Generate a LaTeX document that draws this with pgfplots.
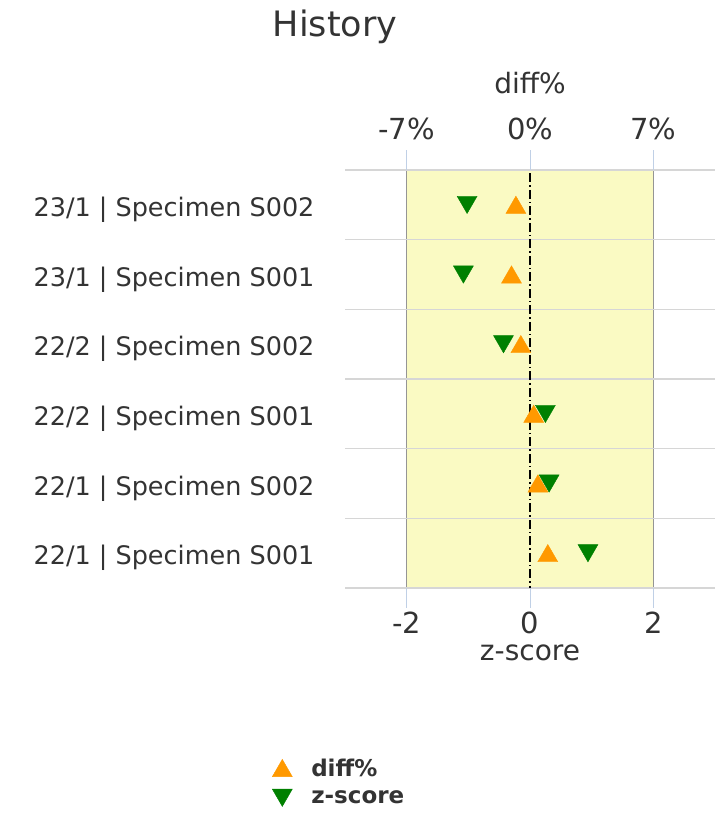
\documentclass[border=0pt]{standalone}
\usepackage{fontspec}
\setmainfont{DejaVu Sans}
\usepackage{pgfplots}
\usepackage{pgfplotstable}
\pgfplotsset{compat=1.18}

\definecolor{txt}{HTML}{333333}
\definecolor{band}{HTML}{FAFAC3}
\definecolor{gridc}{HTML}{D6D6D6}
\definecolor{bordc}{HTML}{959595}
\definecolor{tickc}{HTML}{C0D0E6}
\definecolor{dorange}{HTML}{FF9900}
\definecolor{zgreen}{HTML}{008000}

% row 0 = top row
\pgfplotstableread{
row diff z
0 -0.80 -1.02
1 -1.05 -1.08
2 -0.52 -0.43
3 0.21 0.25
4 0.45 0.31
5 1.01 0.94
}\hist

\pgfplotsset{
  histbase/.style={
    scale only axis, width=370pt, height=418pt,
    at={(345pt,226pt)}, anchor=south west,
    ymin=-0.5, ymax=5.5, y dir=reverse,
    axis line style={draw=none},
    xtick align=outside, major tick length=20pt,
    xtick style={draw=tickc, thick},
    tick label style={font=\fontsize{29}{33}\selectfont, text=txt},
    label style={font=\fontsize{28}{32}\selectfont, text=txt},
    clip=false,
  },
  upmark/.style={only marks, mark=triangle*, mark size=11.5pt,
    mark options={fill=dorange, draw=dorange, yshift=-2.8pt}},
  % rotated frame: negative yshift moves the mark up
  downmark/.style={only marks, mark=triangle*, mark size=11.5pt,
    mark options={rotate=180, fill=zgreen, draw=zgreen, yshift=-2.8pt}},
}

\begin{document}
\begin{tikzpicture}
\node[font=\fontsize{35}{40}\selectfont, text=txt] at (335pt,787pt) {History};

% z-score axis (bottom), band, grid and green marks
\begin{axis}[histbase, set layers,
  xmin=-3, xmax=3,
  axis x line*=bottom, axis y line*=left,
  xtick={-2,0,2}, xticklabels={-2,0,2},
  xlabel={z-score},
  x label style={at={(axis description cs:0.5,-0.155)}, anchor=center},
  ytick={0,...,5},
  yticklabels={23/1 | Specimen S002, 23/1 | Specimen S001, 22/2 | Specimen S002,
    22/2 | Specimen S001, 22/1 | Specimen S002, 22/1 | Specimen S001},
  ytick style={draw=none},
  yticklabel style={font=\fontsize{25.5}{30}\selectfont, text=txt,
    xshift=-27pt, yshift=-5pt},
  minor ytick={-0.5,0.5,...,5.5},
  yminorgrids=true, minor y grid style={gridc, line width=1.5pt},
]
\begin{pgfonlayer}{axis background}
\fill[band] (axis cs:-2,-0.5) rectangle (axis cs:2,5.5);
\draw[bordc, line width=1.5pt] (axis cs:-2,-0.5) -- (axis cs:-2,5.5);
\draw[bordc, line width=1.5pt] (axis cs:2,-0.5) -- (axis cs:2,5.5);
\end{pgfonlayer}
\draw[black, line width=1.2pt, dash pattern=on 9pt off 3pt on 1.5pt off 3pt]
  (axis cs:0,-0.45) -- (axis cs:0,5.5);
\addplot[downmark] table[x=z, y=row] {\hist};
\end{axis}

% diff% axis (top), orange marks and legend
\begin{axis}[histbase,
  xmin=-10.5, xmax=10.5,
  axis x line*=top, hide y axis,
  xtick={-7,0,7}, xticklabels={-7\%,0\%,7\%},
  xticklabel style={yshift=7pt},
  xlabel={diff\%},
  x label style={at={(axis description cs:0.5,1.208)}, anchor=center},
  legend style={at={(-0.205,-0.398)}, anchor=north west, draw=none, fill=none,
    font=\bfseries\fontsize{23}{26}\selectfont, text=txt,
    row sep=9pt, column sep=17pt},
  legend cell align=left,
]
\addplot[upmark] table[x=diff, y=row] {\hist};
\addlegendentry{diff\%}
\addlegendimage{downmark}
\addlegendentry{z-score}
\end{axis}
\pgfresetboundingbox
\useasboundingbox (0,0) rectangle (726pt,814pt);
\end{tikzpicture}
\end{document}
